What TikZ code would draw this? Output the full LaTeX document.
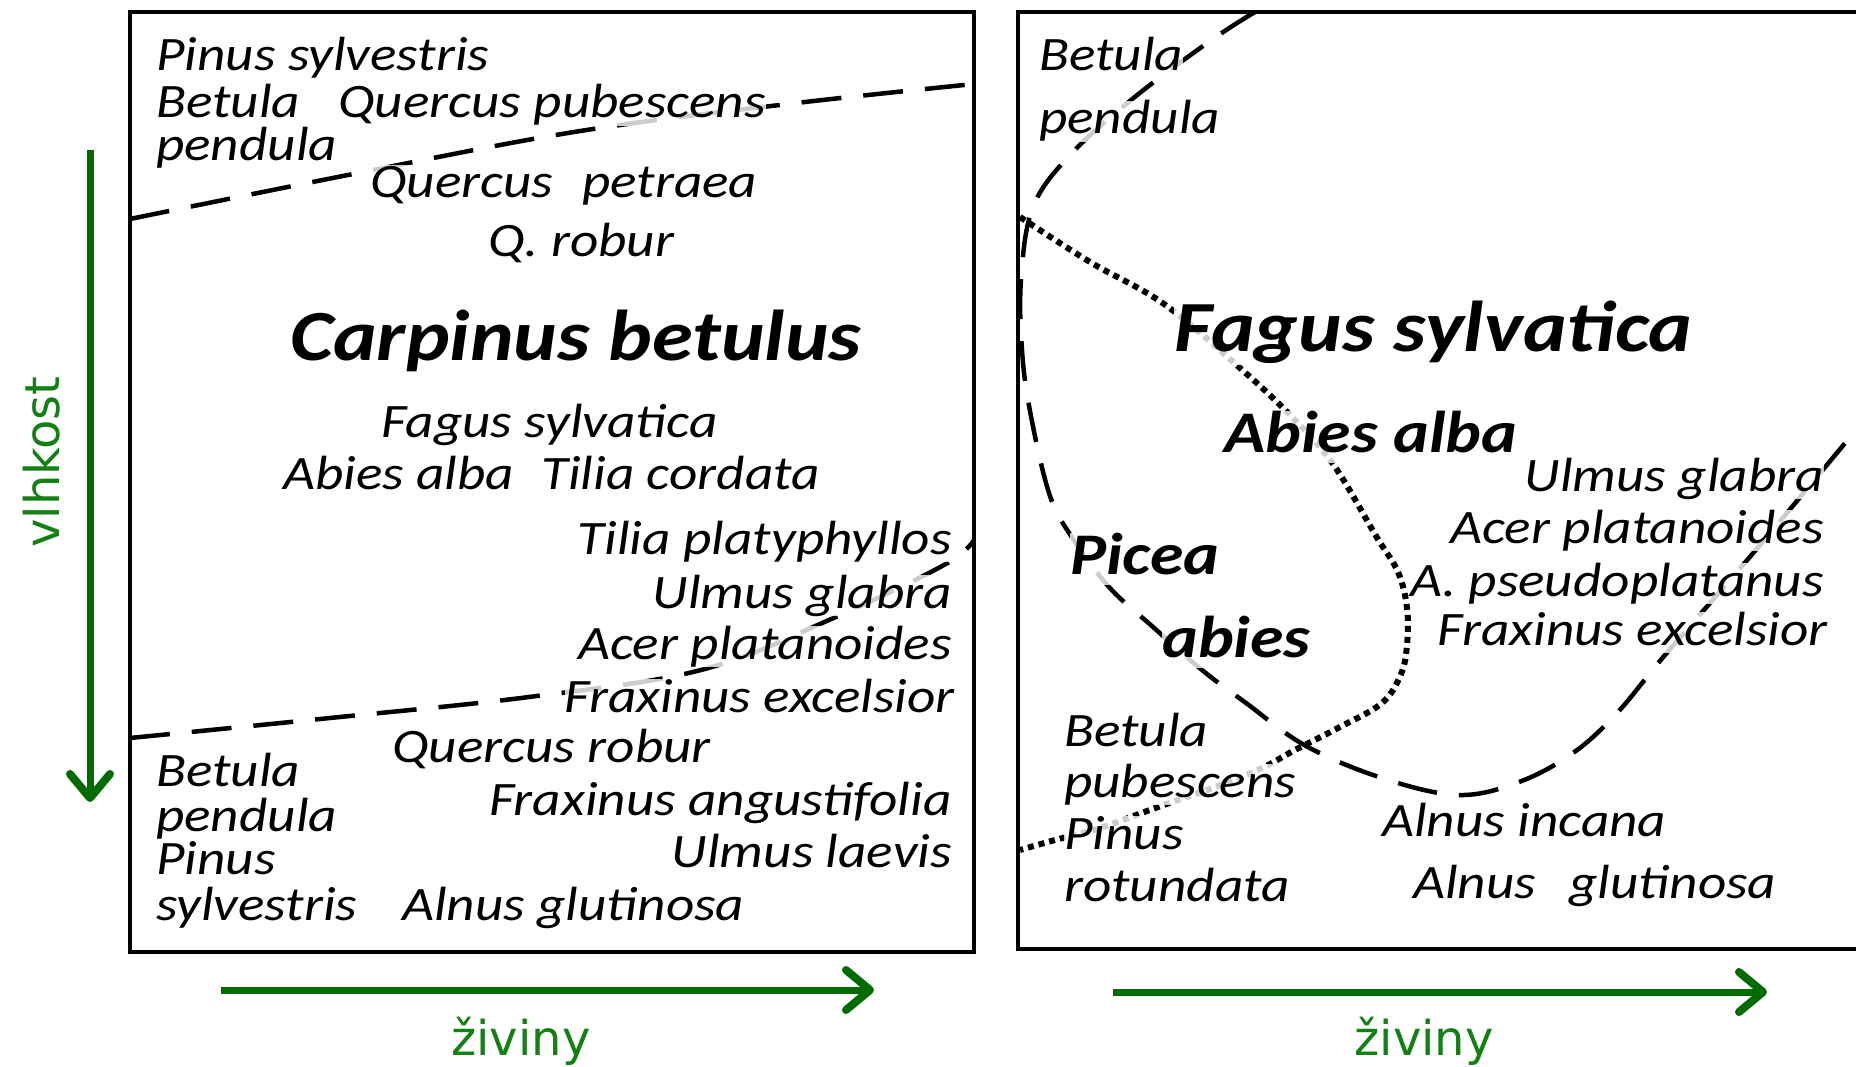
\documentclass[tikz,border=0pt]{standalone}
\usepackage{fontspec}
\setmainfont{Carlito}[FakeStretch=1.15]
\newfontfamily\axisfont{DejaVu Sans}
\usepackage{tikz}
\usetikzlibrary{arrows.meta}
\definecolor{arrowgreen}{RGB}{0,108,0}
\definecolor{labelgreen}{RGB}{20,128,20}

\begin{document}
\begin{tikzpicture}[x=1pt,y=-1pt,
  frame/.style={draw=black,line width=4pt},
  zone/.style={draw=black,line width=4.5pt,dash pattern=on 40pt off 22pt},
  dotzone/.style={draw=black,line width=6pt,dash pattern=on 6pt off 5pt},
  axis/.style={draw=arrowgreen,line width=7pt,-{Straight Barb[length=24pt,width=40pt,line width=8pt,round]}},
  axislabel/.style={text=labelgreen,font=\axisfont\fontsize{48}{50}\selectfont,inner sep=0pt},
  treename/.style={font=\fontsize{48}{50}\selectfont\itshape,inner sep=0pt,text height=33pt,text depth=8pt,fill=white,fill opacity=.8,text opacity=1},
  treelead/.style={treename,font=\fontsize{72}{74}\selectfont\bfseries\itshape,text height=50pt,text depth=13pt},
  treebold/.style={treename,font=\fontsize{59}{61}\selectfont\bfseries\itshape,text height=41pt,text depth=11pt}]
\useasboundingbox (0,0) rectangle (1856,1067);
\clip (0,0) rectangle (1856,1067);
\fill[white] (0,0) rectangle (1856,1067);
\draw[frame] (130,12) rectangle (974,952);
\draw[frame] (1018,12) rectangle (1890,949);
\draw[zone] plot[smooth,tension=.6] coordinates {(130,219) (348,175) (574,132) (788,104) (974,84)};
\draw[zone] plot[smooth,tension=.6] coordinates {(130,738) (330,718) (529,697) (701,670) (829,620) (944,565) (974,540)};
\draw[zone] plot[smooth,tension=.6] coordinates {(1255,12) (1213,39) (1136,96) (1071,154) (1033,207) (1021,280) (1022,350) (1030,411) (1049,493) (1071,536) (1109,587) (1153,627) (1202,670) (1246,703) (1306,746) (1382,778) (1458,795) (1519,782) (1573,753) (1617,713) (1665,655) (1760,545) (1860,425)};
\draw[dotzone] plot[smooth,tension=.6] coordinates {(1020,217) (1090,262) (1164,304) (1240,368) (1290,415) (1333,464) (1376,536) (1398,572) (1407,608) (1407,645) (1401,674) (1382,703) (1338,728) (1295,750) (1262,768) (1218,786) (1158,807) (1100,828) (1055,840) (1020,850)};
\node[treename,anchor=base west] (pisy1) at (156,71) {Pinus sylvestris};
\node[treename,anchor=base west] (bepe1a) at (156,118) {Betula};
\node[treename,anchor=base west] (qupu) at (338,118) {Quercus pubescens};
\node[treename,anchor=base west] (bepe1b) at (156,161) {pendula};
\node[treename,anchor=base west] (qupe) at (370,198) {Quercus\hspace{.6em}petraea};
\node[treename,anchor=base west] (quro1) at (488,257) {Q. robur};
\node[treelead,anchor=base west] (cabe) at (290,361) {Carpinus betulus};
\node[treename,anchor=base west] (fasy1) at (381,437) {Fagus sylvatica};
\node[treename,anchor=base west] (abal1) at (283,489) {Abies alba};
\node[treename,anchor=base west] (tico) at (541,489) {Tilia cordata};
\node[treename,anchor=base east] (tipl) at (952,554) {Tilia platyphyllos};
\node[treename,anchor=base east] (ulgl1) at (952,608) {Ulmus glabra};
\node[treename,anchor=base east] (acpl1) at (952,659) {Acer platanoides};
\node[treename,anchor=base east] (frex1) at (955,712) {Fraxinus excelsior};
\node[treename,anchor=base west] (quro2) at (392,762) {Quercus robur};
\node[treename,anchor=base west] (bepe2a) at (156,786) {Betula};
\node[treename,anchor=base east] (fran) at (952,815) {Fraxinus angustifolia};
\node[treename,anchor=base west] (bepe2b) at (156,831) {pendula};
\node[treename,anchor=base east] (ulla) at (952,867) {Ulmus laevis};
\node[treename,anchor=base west] (pisy2a) at (156,874) {Pinus};
\node[treename,anchor=base west] (pisy2b) at (156,920) {sylvestris};
\node[treename,anchor=base west] (algl1) at (402,920) {Alnus glutinosa};
\node[treename,anchor=base west] (bepe3a) at (1039,71) {Betula};
\node[treename,anchor=base west] (bepe3b) at (1039,134) {pendula};
\node[treelead,anchor=base west] (fasy2) at (1174,352) {Fagus sylvatica};
\node[treebold,anchor=base west] (abal2) at (1224,452) {Abies alba};
\node[treename,anchor=base east] (ulgl2) at (1824,491) {Ulmus glabra};
\node[treename,anchor=base east] (acpl2) at (1824,543) {Acer platanoides};
\node[treename,anchor=base east] (acps) at (1824,596) {A. pseudoplatanus};
\node[treename,anchor=base east] (frex2) at (1828,645) {Fraxinus excelsior};
\node[treebold,anchor=base west] (piab1) at (1070,574) {Picea};
\node[treebold,anchor=base west] (piab2) at (1162,657) {abies};
\node[treename,anchor=base west] (bepu1) at (1064,746) {Betula};
\node[treename,anchor=base west] (bepu2) at (1064,797) {pubescens};
\node[treename,anchor=base west] (piro1) at (1064,849) {Pinus};
\node[treename,anchor=base west] (piro2) at (1064,901) {rotundata};
\node[treename,anchor=base west] (alin) at (1382,836) {Alnus incana};
\node[treename,anchor=base west] (algl2) at (1413,898) {Alnus\hspace{.7em}glutinosa};
\coordinate (vtop) at (90,150);
\coordinate (vend) at (90,802);
\coordinate (h1s) at (221,990);
\coordinate (h1e) at (874,990);
\coordinate (h2s) at (1113,992);
\coordinate (h2e) at (1767,992);
\draw[axis] (vtop) -- (vend);
\draw[axis] (h1s) -- (h1e);
\draw[axis] (h2s) -- (h2e);
\node[axislabel,rotate=90] (moist) at (42,462) {vlhkost};
\node[axislabel,anchor=base] (nutr1) at (521,1055) {živiny};
\node[axislabel,anchor=base] (nutr2) at (1424,1055) {živiny};
\end{tikzpicture}
\end{document}
